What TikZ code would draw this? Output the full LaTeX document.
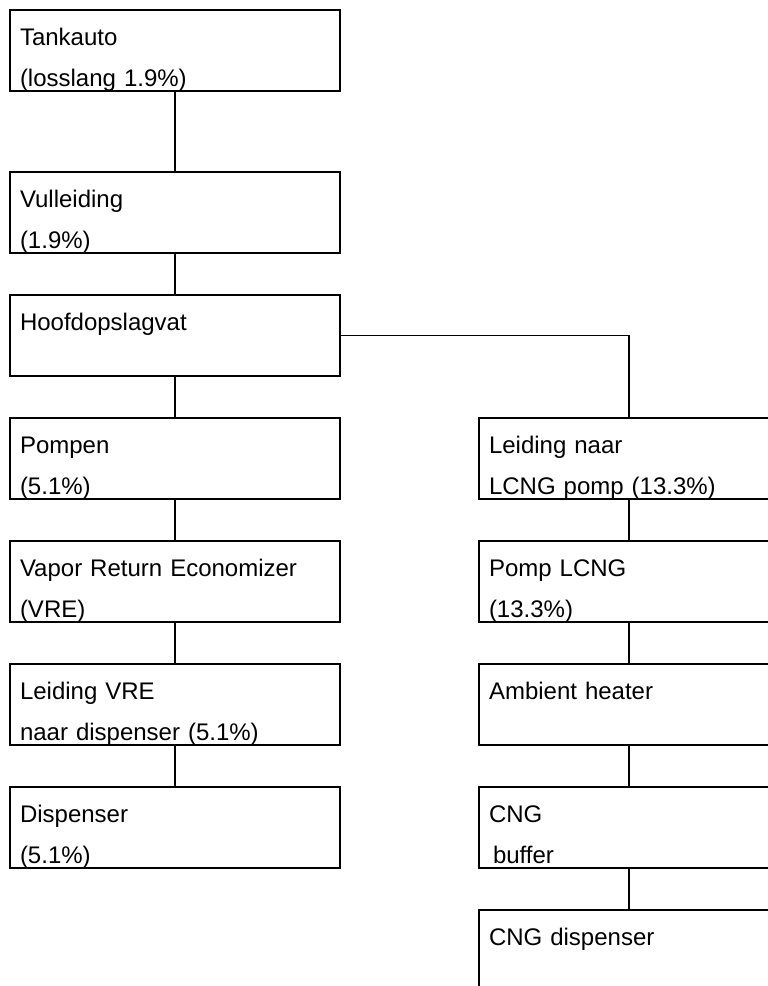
\documentclass[tikz,border=0pt]{standalone}
\usepackage{fontspec}
\setmainfont{Liberation Sans}
\usetikzlibrary{positioning}

\begin{document}
\begin{tikzpicture}[x=0.5pt, y=-0.5pt,
        stagebox/.style={draw,
            line width=0.8pt,
            minimum width=165pt,
            text width=155pt,
            inner xsep=5pt,
            inner ysep=0pt,
            outer sep=0pt,
            text height=17.5pt,
            text depth=23pt,
            align=left,
            font=\fontsize{12}{20.5}\selectfont},
        narrowbox/.style={stagebox, minimum width=150pt, text width=140pt},
        link/.style={line width=0.8pt}]
    \useasboundingbox (0,0) rectangle (767,986);
    % linker tak
    \node[stagebox, anchor=north west] at (10,10) (tankauto) {Tankauto\\(losslang 1.9\%)};
    \node[stagebox, below=40.5pt of tankauto] (vulleiding) {Vulleiding\\(1.9\%)};
    \node[stagebox, below=21pt of vulleiding] (hoofdvat) {Hoofdopslagvat};
    \node[stagebox, below=21pt of hoofdvat] (pompen) {Pompen\\(5.1\%)};
    \node[stagebox, below=21pt of pompen] (vre) {Vapor Return Economizer\\(VRE)};
    \node[stagebox, below=21pt of vre] (leidingvre) {Leiding VRE\\naar dispenser (5.1\%)};
    \node[stagebox, below=21pt of leidingvre] (dispenser) {Dispenser\\(5.1\%)};
    % rechter tak
    \node[narrowbox, right=69.5pt of pompen] (leidinglcng) {Leiding naar\\LCNG pomp (13.3\%)};
    \node[narrowbox, below=21pt of leidinglcng] (pomplcng) {Pomp LCNG\\(13.3\%)};
    \node[narrowbox, below=21pt of pomplcng] (heater) {Ambient heater};
    \node[narrowbox, below=21pt of heater] (buffer) {CNG\\\hspace*{2pt}buffer};
    \node[narrowbox, below=21pt of buffer] (cngdisp) {CNG dispenser};
    % verbindingen
    \draw[link] (tankauto.south) -- (vulleiding.north);
    \draw[link] (vulleiding.south) -- (hoofdvat.north);
    \draw[link] (hoofdvat.south) -- (pompen.north);
    \draw[link] (pompen.south) -- (vre.north);
    \draw[link] (vre.south) -- (leidingvre.north);
    \draw[link] (leidingvre.south) -- (dispenser.north);
    \draw[link] (hoofdvat.east) -| (leidinglcng.north);
    \draw[link] (leidinglcng.south) -- (pomplcng.north);
    \draw[link] (pomplcng.south) -- (heater.north);
    \draw[link] (heater.south) -- (buffer.north);
    \draw[link] (buffer.south) -- (cngdisp.north);
\end{tikzpicture}
\end{document}
